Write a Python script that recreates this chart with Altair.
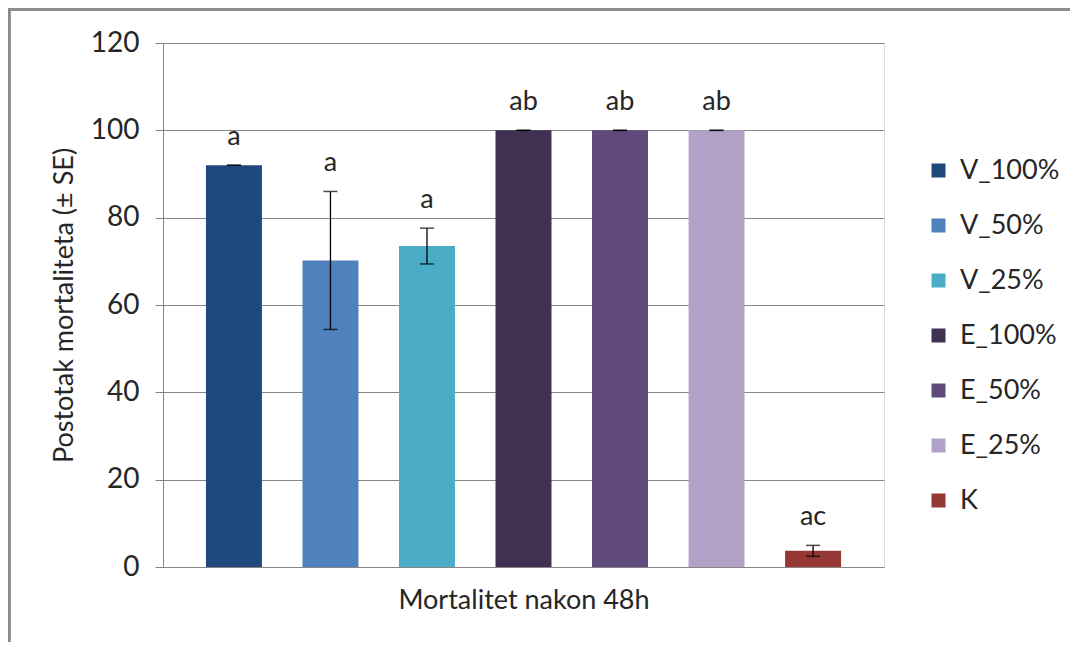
import altair as alt
import pandas as pd

series = ["V_100%", "V_50%", "V_25%", "E_100%", "E_50%", "E_25%", "K"]
means = [92.0, 70.2, 73.5, 100.0, 100.0, 100.0, 3.7]
se = [0.0, 15.8, 4.1, 0.0, 0.0, 0.0, 1.25]
letters = ["a", "a", "a", "ab", "ab", "ab", "ac"]
colors = ["#1F497D", "#4F81BD", "#4BACC6", "#403152", "#604A7B", "#B3A2C7", "#953735"]

df = pd.DataFrame({
    "series": series,
    "mean": means,
    "se": se,
    "letter": letters,
})
df["lo"] = df["mean"] - df["se"]
df["hi"] = df["mean"] + df["se"]

FONT = "Lato"
FS = 27

x = alt.X("series:N", sort=series,
          scale=alt.Scale(paddingInner=0.42, paddingOuter=0.445),
          axis=alt.Axis(title="Mortalitet nakon 48h", labels=False, ticks=False,
                        domainColor="#868686", titleFontSize=FS, titleFont=FONT,
                        titleFontWeight="normal", titleColor="#262626", titlePadding=20))
y = alt.Y("mean:Q", scale=alt.Scale(domain=[0, 120]),
          axis=alt.Axis(title="Postotak mortaliteta (± SE)", values=[0, 20, 40, 60, 80, 100, 120],
                        grid=True, gridColor="#868686", domainColor="#868686",
                        tickColor="#868686", tickSize=8, labelPadding=16,
                        labelFontSize=28, labelFont=FONT, labelColor="#262626",
                        titleFontSize=FS, titleFont=FONT, titleFontWeight="normal",
                        titleColor="#262626", titlePadding=12))

bars = alt.Chart(df).mark_bar().encode(
    x=x, y=y,
    color=alt.Color("series:N", sort=series,
                    scale=alt.Scale(domain=series, range=colors),
                    legend=alt.Legend(title=None, orient="none", legendX=762, legendY=114,
                                      symbolType="square", symbolSize=196, symbolStrokeWidth=0,
                                      labelFontSize=FS, labelFont=FONT, labelColor="#262626",
                                      rowPadding=27, labelOffset=8)),
)

rules = alt.Chart(df).mark_rule(color="#000000", strokeWidth=1.3).encode(
    x=alt.X("series:N", sort=series), y="lo:Q", y2="hi:Q")
caps_hi = alt.Chart(df).mark_tick(color="#000000", thickness=1.5, size=14, orient="horizontal").encode(
    x=alt.X("series:N", sort=series), y="hi:Q")
caps_lo = alt.Chart(df).mark_tick(color="#000000", thickness=1.5, size=14, orient="horizontal").encode(
    x=alt.X("series:N", sort=series), y="lo:Q")

labels = alt.Chart(df).mark_text(fontSize=FS, font=FONT, color="#262626", baseline="bottom", dy=-14).encode(
    x=alt.X("series:N", sort=series), y="hi:Q", text="letter:N")

frame_top = alt.Chart(df).mark_rule(color="#8c8c8c", strokeWidth=2.5).encode(
    x=alt.value(-160), x2=alt.value(1000), y=alt.value(-33.7))
frame_left = alt.Chart(df).mark_rule(color="#8c8c8c", strokeWidth=2.5).encode(
    x=alt.value(-154), y=alt.value(-34), y2=alt.value(700))

chart = alt.layer(bars, rules, caps_hi, caps_lo, labels, frame_top, frame_left).properties(
    width=721, height=524,
    autosize=alt.AutoSizeParams(type="none"),
    padding={"left": 155, "top": 35, "right": 186, "bottom": 75},
).configure_view(stroke=None).configure(background="white")

chart.save("out.html", embed_options={"renderer": "svg", "actions": False})
